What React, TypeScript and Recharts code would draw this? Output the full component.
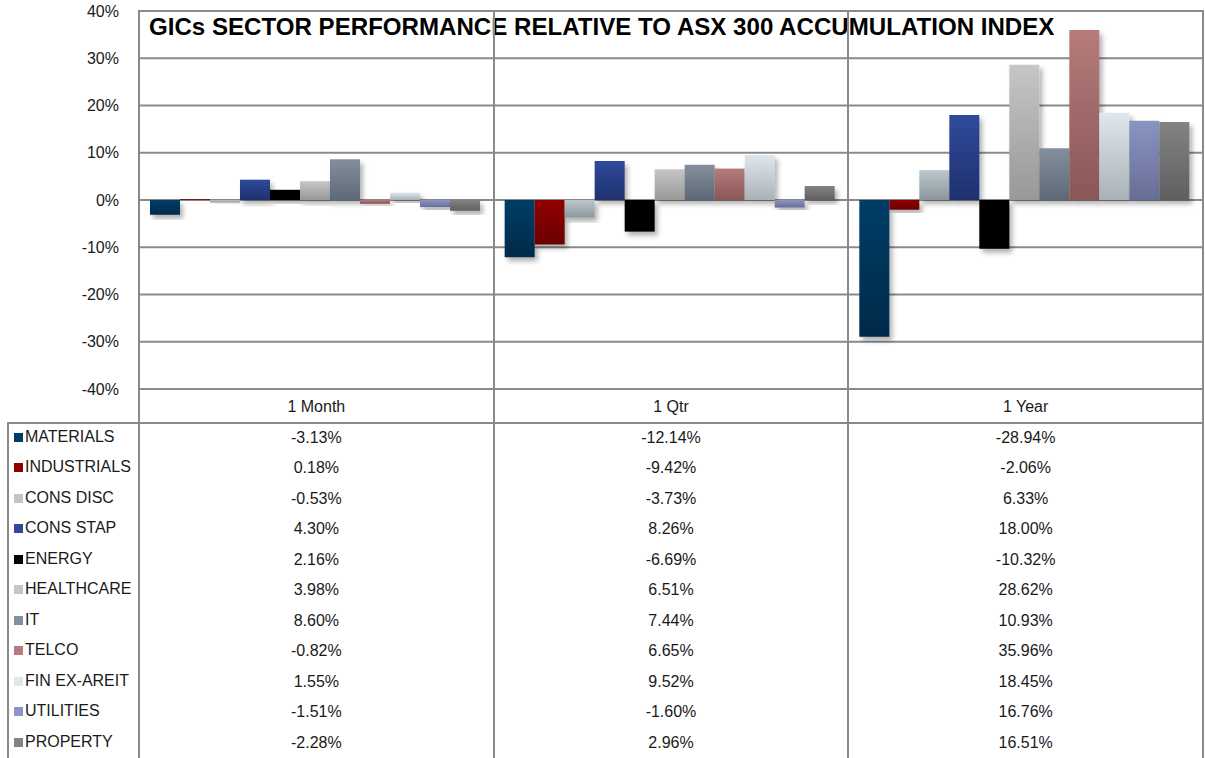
import { Bar, BarChart, CartesianGrid, XAxis, YAxis } from "recharts";

const periods = ["1 Month", "1 Qtr", "1 Year"];
const sectors = [
  "MATERIALS",
  "INDUSTRIALS",
  "CONS DISC",
  "CONS STAP",
  "ENERGY",
  "HEALTHCARE",
  "IT",
  "TELCO",
  "FIN EX-AREIT",
  "UTILITIES",
  "PROPERTY",
];
const oneMonth = [-3.13, 0.18, -0.53, 4.3, 2.16, 3.98, 8.6, -0.82, 1.55, -1.51, -2.28];
const oneQtr = [-12.14, -9.42, -3.73, 8.26, -6.69, 6.51, 7.44, 6.65, 9.52, -1.6, 2.96];
const oneYear = [-28.94, -2.06, 6.33, 18.0, -10.32, 28.62, 10.93, 35.96, 18.45, 16.76, 16.51];
const yTicks = [-40, -30, -20, -10, 0, 10, 20, 30, 40];

// top / bottom of each bar's gradient
const sectorColors = [
  ["#003d66", "#002a4a"],
  ["#900000", "#6a0000"],
  ["#bcc7cd", "#8b979d"],
  ["#2f4a9c", "#1f306e"],
  ["#000000", "#000000"],
  ["#c6c6c6", "#989898"],
  ["#838f9d", "#5d6877"],
  ["#b67b7b", "#8a5757"],
  ["#e0e7ec", "#a9b2b6"],
  ["#8b94c2", "#676d96"],
  ["#838383", "#5f5f5f"],
];

const series = [oneMonth, oneQtr, oneYear];
const chartData = periods.map((period, i) => {
  const row: Record<string, string | number> = { period };
  sectors.forEach((s, j) => {
    row[s] = series[i][j];
  });
  return row;
});

const FONT = '"Liberation Sans", Arial, sans-serif';
const LINE = "#8a8a8a";
const PLOT_L = 139;
const PLOT_R = 1203;
const colW = (PLOT_R - PLOT_L) / 3;
const ROW_TOP = 423;
const ROW_H = 30.45;

const vline = (x: number, top: number, bottom: number) => ({
  position: "absolute" as const,
  left: x - 1,
  top,
  width: 2,
  height: bottom - top,
  background: LINE,
});

export default function App() {
  return (
    <div
      style={{
        position: "absolute",
        left: 0,
        top: 0,
        width: 1205,
        height: 758,
        background: "#fff",
        fontFamily: FONT,
        overflow: "hidden",
      }}
    >
      <style>{`.recharts-bar-rectangle path { filter: url(#barShadow); }`}</style>
      <BarChart
        width={1205}
        height={400}
        data={chartData}
        margin={{ top: 11, right: 2, bottom: 11, left: 79 }}
        barCategoryGap={11}
        barGap={0}
      >
        <defs>
          <filter id="barShadow" x="-30%" y="-30%" width="160%" height="160%">
            <feDropShadow dx="3" dy="4" stdDeviation="2.5" floodColor="#000" floodOpacity="0.3" />
          </filter>
          {sectorColors.map(([top, bottom], i) => (
            <linearGradient key={i} id={`grad${i}`} x1="0" y1="0" x2="0" y2="1">
              <stop offset="0%" stopColor={top} />
              <stop offset="100%" stopColor={bottom} />
            </linearGradient>
          ))}
        </defs>
        <CartesianGrid horizontal vertical={false} stroke={LINE} strokeWidth={2} strokeOpacity={1} />
        <XAxis dataKey="period" hide />
        <YAxis
          width={60}
          domain={[-40, 40]}
          ticks={yTicks}
          allowDataOverflow
          axisLine={false}
          tickLine={false}
          tickMargin={14}
          tickFormatter={(v) => `${v}%`}
          tick={{ fontSize: 16, fill: "#1a1a1a", fontFamily: FONT }}
        />
        {sectors.map((s, i) => (
          <Bar key={s} dataKey={s} fill={`url(#grad${i})`} isAnimationActive={false} />
        ))}
      </BarChart>

      <div
        style={{
          position: "absolute",
          left: 149,
          top: 14,
          fontSize: 24.1,
          fontWeight: "bold",
          color: "#000",
          whiteSpace: "nowrap",
          lineHeight: "26px",
        }}
      >
        GICs SECTOR PERFORMANCE RELATIVE TO ASX 300 ACCUMULATION INDEX
      </div>

      {/* frame lines */}
      <div style={vline(PLOT_L, 10, 758)} />
      <div style={vline(PLOT_L + colW, 10, 758)} />
      <div style={vline(PLOT_L + 2 * colW, 10, 758)} />
      <div style={vline(PLOT_R, 10, 758)} />
      <div style={vline(8, ROW_TOP, 758)} />
      <div
        style={{ position: "absolute", left: 7, top: ROW_TOP - 1, width: PLOT_R - 6, height: 2, background: LINE }}
      />

      {periods.map((p, i) => (
        <div
          key={p}
          style={{
            position: "absolute",
            left: PLOT_L + i * colW,
            width: colW,
            top: 389,
            height: 34,
            lineHeight: "36px",
            textAlign: "center",
            fontSize: 16,
            color: "#1a1a1a",
          }}
        >
          {p}
        </div>
      ))}

      {sectors.map((s, j) => (
        <div key={s}>
          <div
            style={{
              position: "absolute",
              left: 14,
              top: ROW_TOP + j * ROW_H + 10,
              width: 9,
              height: 9,
              background: sectorColors[j][0],
            }}
          />
          <div
            style={{
              position: "absolute",
              left: 25,
              top: ROW_TOP + j * ROW_H,
              height: ROW_H,
              lineHeight: "28px",
              fontSize: 16,
              color: "#1a1a1a",
              whiteSpace: "nowrap",
            }}
          >
            {s}
          </div>
          {series.map((vals, i) => (
            <div
              key={i}
              style={{
                position: "absolute",
                left: PLOT_L + i * colW,
                width: colW,
                top: ROW_TOP + j * ROW_H,
                height: ROW_H,
                lineHeight: "30px",
                textAlign: "center",
                fontSize: 16,
                color: "#1a1a1a",
              }}
            >
              {vals[j].toFixed(2)}%
            </div>
          ))}
        </div>
      ))}
    </div>
  );
}
